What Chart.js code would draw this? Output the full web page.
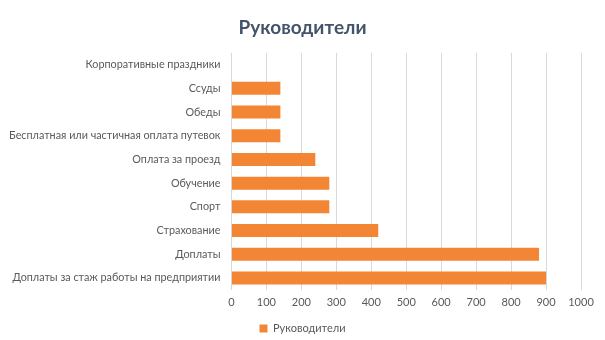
<!DOCTYPE html>
<html><head><meta charset="utf-8">
<script src="https://cdn.jsdelivr.net/npm/chart.js@4/dist/chart.umd.min.js"></script>
<style>html,body{margin:0;padding:0;background:#fff}#wrap{width:605px;height:340px;position:relative}</style>
</head><body><div id="wrap"><canvas id="c" width="605" height="340"></canvas></div>
<script>
const categories = ["Корпоративные праздники","Ссуды","Обеды","Бесплатная или частичная оплата путевок","Оплата за проезд","Обучение","Спорт","Страхование","Доплаты","Доплаты за стаж работы на предприятии"];
const values = [0,140,140,140,240,280,280,420,880,900];
const seriesName = "Руководители";
const xTicks = [0,100,200,300,400,500,600,700,800,900,1000];

new Chart(document.getElementById('c'), {
  type: 'bar',
  data: { labels: categories, datasets: [{ label: seriesName, data: values, backgroundColor: '#F38635', borderWidth: 0, barPercentage: 0.55, categoryPercentage: 1 }] },
  options: {
    indexAxis: 'y', responsive: false, animation: false,
    layout: { padding: { left: 6, right: 6, top: 8, bottom: -4 } },
    plugins: {
      title: { display: true, text: seriesName, color: '#44546A', font: { family: 'Lato', size: 19, weight: 'bold' }, padding: { top: 8, bottom: 14 } },
      legend: { position: 'bottom', labels: { color: '#595959', font: { family: 'Lato', size: 11 }, boxWidth: 8, boxHeight: 8, padding: 2 } },
      tooltip: { enabled: false }
    },
    scales: {
      x: { min: 0, max: 1000, afterBuildTicks: s => { s.ticks = xTicks.map(v => ({ value: v })); },
        afterFit: s => { s.height += 6; s.paddingRight = 24; },
        grid: { color: '#D9D9D9', drawTicks: false }, border: { display: false },
        ticks: { color: '#595959', font: { family: 'Lato', size: 11 }, padding: 6, callback: v => String(v) } },
      y: { grid: { display: false }, border: { display: false },
        ticks: { color: '#595959', font: { family: 'Lato', size: 10.8 }, padding: 3, autoSkip: false } }
    }
  }
});
</script></body></html>
